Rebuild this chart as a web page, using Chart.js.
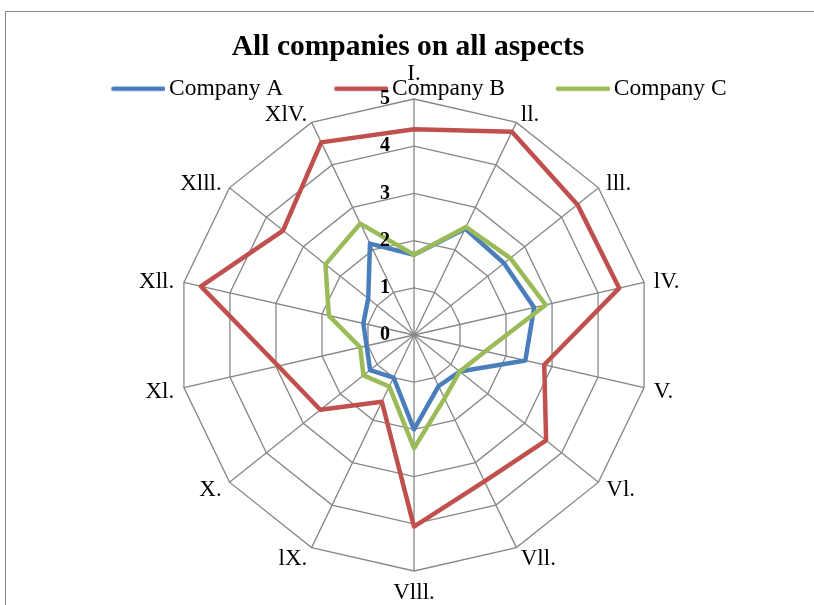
<!DOCTYPE html>
<html>
<head>
<meta charset="utf-8">
<script src="https://cdn.jsdelivr.net/npm/chart.js@4.4.1/dist/chart.umd.min.js"></script>
<style>
  html, body { margin: 0; padding: 0; background: #fff; }
  #wrap { position: relative; width: 814px; height: 605px; overflow: hidden; }
  #frame { position: absolute; left: 5px; top: 11px; width: 900px; height: 700px;
           border: 1.5px solid #868686; box-sizing: border-box; }
  canvas { position: absolute; left: 0; top: 0; }
</style>
</head>
<body>
<div id="wrap">
  <div id="frame"></div>
  <canvas id="c" width="814" height="605"></canvas>
</div>
<script>
// Aspects rated (axis labels, clockwise from the top)
const aspects = ['I.', 'll.', 'lll.', 'lV.', 'V.', 'Vl.', 'Vll.', 'Vlll.', 'lX.', 'X.', 'Xl.', 'Xll.', 'Xlll.', 'XlV.'];

// Scores per company, one value per aspect
const companyA = [1.70, 2.50, 2.44, 2.61, 2.42, 1.24, 1.20, 2.00, 1.00, 1.19, 1.03, 1.10, 1.24, 2.15];
const companyB = [4.36, 4.78, 4.43, 4.46, 2.83, 3.58, 3.44, 4.06, 1.57, 2.54, 2.95, 4.63, 3.55, 4.53];
const companyC = [1.70, 2.54, 2.61, 2.86, 1.55, 1.24, 1.49, 2.40, 1.21, 1.37, 1.17, 1.85, 2.40, 2.62];

// Radial tick labels
const tickValues = [0, 1, 2, 3, 4, 5];

const seriesNames = ['Company A', 'Company B', 'Company C'];
const seriesColors = ['#4A7EBB', '#C0504D', '#9BBB59'];

const SERIF = '"Liberation Serif", "Times New Roman", serif';

// Legend key: a thick line that runs right up to the label text.
// The image is wider on the left so the line sits off-centre to the right.
function legendKey(color) {
  const c = document.createElement('canvas');
  c.width = 62;
  c.height = 8;
  const g = c.getContext('2d');
  g.strokeStyle = color;
  g.lineWidth = 4.5;
  g.lineCap = 'round';
  g.beginPath();
  g.moveTo(10, 4);
  g.lineTo(60, 4);
  g.stroke();
  return c;
}

// Value labels to the left of the vertical axis, bold
const sideTicks = {
  id: 'sideTicks',
  afterDatasetsDraw(chart) {
    const r = chart.scales.r;
    const ctx = chart.ctx;
    ctx.save();
    ctx.font = 'bold 20px ' + SERIF;
    ctx.fillStyle = '#000';
    ctx.textAlign = 'center';
    ctx.textBaseline = 'middle';
    tickValues.forEach(v => {
      const d = r.getDistanceFromCenterForValue(v);
      ctx.fillText(String(v), r.xCenter - 29, r.yCenter - d);
    });
    ctx.restore();
  }
};

// Axis names just outside each spoke: side labels centred vertically on
// their spoke, the top and bottom ones centred horizontally
const spokeLabels = {
  id: 'spokeLabels',
  afterDraw(chart) {
    const r = chart.scales.r;
    const ctx = chart.ctx;
    ctx.save();
    ctx.font = '23px ' + SERIF;
    ctx.fillStyle = '#000';
    chart.data.labels.forEach((label, i) => {
      const p = r.getPointPosition(i, r.drawingArea + 10);
      const dx = p.x - r.xCenter;
      let y = p.y;
      if (Math.abs(dx) < 1) {
        ctx.textAlign = 'center';
        if (p.y < r.yCenter) {
          ctx.textBaseline = 'bottom';
          y -= 4;
        } else {
          ctx.textBaseline = 'top';
        }
      } else {
        ctx.textAlign = dx > 0 ? 'left' : 'right';
        ctx.textBaseline = 'middle';
        y += 2;
      }
      ctx.fillText(label, p.x, y);
    });
    ctx.restore();
  }
};

// Title and legend positions: the legend row floats over the top of the plot
const headerPlacement = {
  id: 'headerPlacement',
  afterInit(chart) {
    const lg = chart.legend;
    const fit = lg.fit;
    lg.fit = function () {
      fit.call(this);
      this._rowHeight = this.height;
      this.height = 0;
    };
  },
  afterLayout(chart) {
    const lg = chart.legend;
    lg.top = 26;
    lg.height = lg._rowHeight;
    lg.bottom = lg.top + lg.height;
    lg.left += 5;
    lg.right += 5;
    const t = chart.titleBlock;
    t.left -= 6;
    t.right -= 6;
  }
};

const datasets = [companyA, companyB, companyC].map((data, i) => ({
  label: seriesNames[i],
  data: data,
  borderColor: seriesColors[i],
  backgroundColor: seriesColors[i],
  borderWidth: 4.5,
  borderJoinStyle: 'round',
  borderCapStyle: 'round',
  pointRadius: 0,
  pointHoverRadius: 0,
  pointStyle: legendKey(seriesColors[i]),
  fill: false,
  tension: 0,
  order: 3 - i
}));

new Chart(document.getElementById('c'), {
  type: 'radar',
  data: { labels: aspects, datasets: datasets },
  plugins: [sideTicks, spokeLabels, headerPlacement],
  options: {
    responsive: false,
    animation: false,
    devicePixelRatio: 1,
    layout: { padding: { left: 14, right: 0, top: 0, bottom: 34 } },
    plugins: {
      title: {
        display: true,
        text: 'All companies on all aspects',
        color: '#000',
        font: { family: SERIF, size: 29.5, weight: 'bold', lineHeight: 1.2 },
        padding: { top: 30, bottom: 33.6 }
      },
      legend: {
        display: true,
        position: 'top',
        labels: {
          color: '#000',
          font: { family: SERIF, size: 23.5 },
          usePointStyle: true,
          pointStyleWidth: 46,
          boxHeight: 8,
          padding: 51,
          sort: (a, b) => a.datasetIndex - b.datasetIndex
        }
      },
      tooltip: { enabled: false }
    },
    scales: {
      r: {
        min: 0,
        max: 5,
        beginAtZero: true,
        ticks: { stepSize: 1, display: false },
        grid: { color: '#878787', lineWidth: 1.3 },
        angleLines: { color: '#878787', lineWidth: 1.3 },
        pointLabels: { display: false }
      }
    }
  }
});
</script>
</body>
</html>
